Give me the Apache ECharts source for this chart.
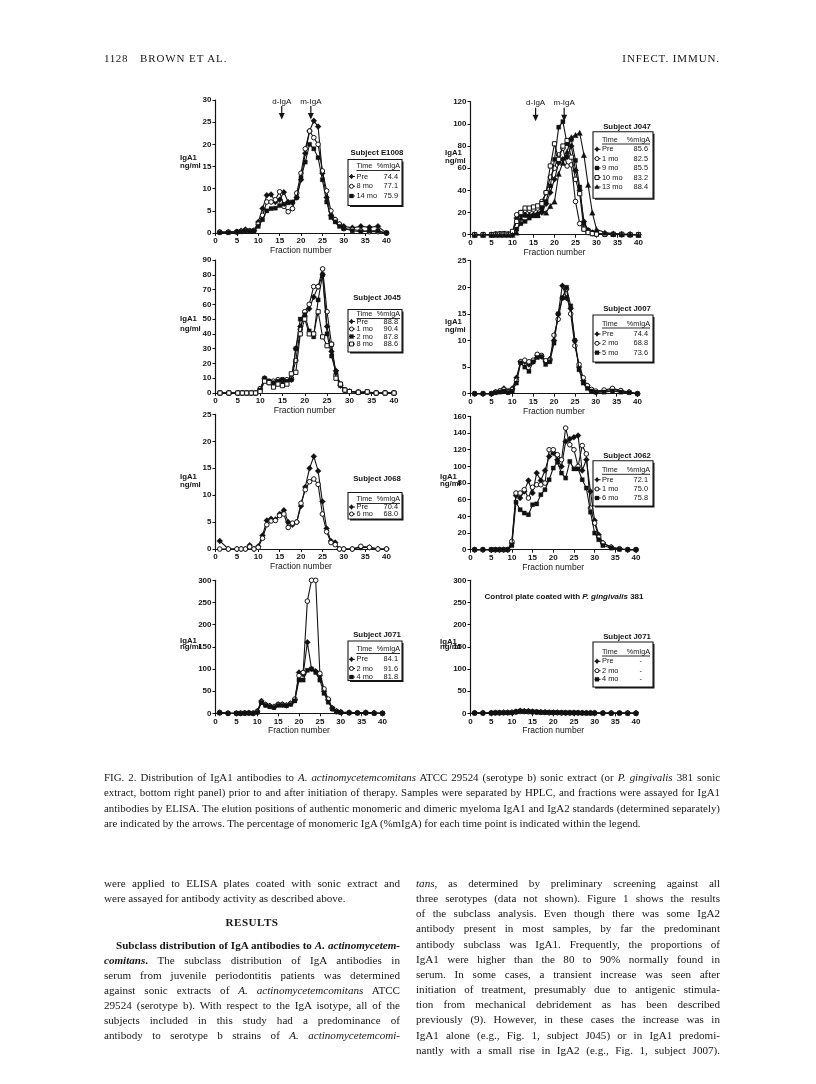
<!DOCTYPE html>
<html><head><meta charset="utf-8"><title>Fig 2</title>
<script src="https://cdn.jsdelivr.net/npm/echarts/dist/echarts.min.js"></script>
<style>
html,body{margin:0;padding:0;background:#fff;}
#page{position:relative;width:816px;height:1084px;overflow:hidden;background:#fff;}
#chart{position:absolute;left:0;top:0;width:816px;height:1084px;}
.ln{position:absolute;font-family:"Liberation Serif","Times New Roman",serif;color:#161616;white-space:nowrap;}
.jf{text-align:justify;text-align-last:justify;}
</style></head><body><div id="page"><div id="chart"></div></div>
<script>
// ---------------- DATA ----------------
const FR   = [1,3,5,6,7,8,9,10,11,12,13,14,15,16,17,18,19,20,21,22,23,24,25,26,27,28,29,30,32,34,36,38,40];
const FR62 = [1,3,5,6,7,8,9,10,11,12,13,14,15,16,17,18,19,20,21,22,23,24,25,26,27,28,29,30,31,32,34,36,38,40];

const E1008_times = ['Pre','8 mo','14 mo'];
const E1008_pct   = ['74.4','77.1','75.9'];
const E1008_pre   = [0.2,0.2,0.3,0.5,0.8,0.5,0.5, 2.5,5.5,8.5,8.7,7,7.5,9.2,7,6.8,8,12,18,23,25.3,24,13.5,8,4,3,2,1.5, 1.2,1.5,1.3,1.5,0];
const E1008_8mo   = [0.2,0.2,0.3,0.4,0.6,0.5,0.6, 2,4,7,7,7.5,9.3,6,4.8,5.5,9,13.5,19,23,21.5,20,14,9.5,5,3,2,1, 0.8,0.5,0.3,0.3,0];
const E1008_14mo  = [0.1,0.1,0.2,0.3,0.5,0.4,0.5, 1.5,3,5,5.5,5.6,6.2,6.5,6.8,7,8,12.5,16,20,19,17,12,7,3.5,2.5,1.5,1, 0.5,0.3,0.5,0.5,0];

const J047_times = ['Pre','1 mo','9 mo','10 mo','13 mo'];
const J047_pct   = ['85.6','82.5','85.5','83.2','88.4'];
const J047_pre   = [0,0,0,0.5,0.5,0.8,0.5, 1,15,18,18,17,18,19,20,28,38,50,65,68,70,80,58,40,12,4,2,1, 0.5,0.5,0.3,0.3,0];
const J047_1mo   = [0,0,0,0.5,0.5,0.5,0.5, 2,18,20,22,22,23,24,30,38,52,60,72,78,62,63,30,10,5,2,1,0.5, 0.3,0.3,0,0,0];
const J047_9mo   = [0,0,0,0.5,0.8,1,0.5, 1,5,10,12,15,17,17,24,30,44,68,97,102,82,86,67,43,10,4,2,1, 0.5,0.5,0.3,0,0];
const J047_10mo  = [0,0,0,0.3,0.5,0.5,0.3, 3,12,20,24,24,25,26,28,38,62,82,68,80,85,70,50,37,5,2,1,0.5, 0.5,0.3,0.3,0,0];
const J047_13mo  = [0,0,0,0,0,0,0, 0,2,15,18,18,18,18,22,20,26,30,55,65,75,88,90,92,72,45,20,5, 2,1,0.5,0.3,0];

const J045_times = ['Pre','1 mo','2 mo','8 mo'];
const J045_pct   = ['88.8','90.4','87.8','88.6'];
const J045_pre   = [0,0,0,0,0,0,0, 2,10,8,7,8,8,8,9,30,45,52,57,65,72,80,45,28,15,5,2,1, 0.5,0.5,0,0,0];
const J045_1mo   = [0,0,0,0,0,0,0, 3,9,7,8,9,9,9,10,22,43,55,60,72,72,84,55,33,12,6,2,1, 0.5,0.5,0,0,0];
const J045_2mo   = [0,0,0,0,0,0,0, 2,10,8,7,8,9,8,9,30,50,53,42,38,63,80,40,25,14,5,2,1, 0.5,0.5,0,0,0];
const J045_8mo   = [0,0,0,0,0,0,0, 1,8,7,4,6,5,6,13,14,40,50,40,40,55,38,32,33,10,6,2,1, 0.5,0.8,0,0,0];

const J007_times = ['Pre','2 mo','5 mo'];
const J007_pct   = ['74.4','68.8','73.6'];
const J007_pre   = [0,0,0,0.3,0.5,1,0.5, 1,3,6,6,5.5,6,7.2,7,6,6.5,10,15,20.3,18,16,10,5,2.5,1.5,0.5,0.3, 0.5,0.8,0.5,0.3,0];
const J007_2mo   = [0,0,0,0.3,0.5,0.8,0.3, 0.8,2.5,6,6.3,6,6.3,7.4,7.2,6.2,6.3,11,14,18,19.7,15,9,5.5,3,1.5,0.8,0.5, 0.7,1,0.6,0.3,0];
const J007_5mo   = [0,0,0,0.2,0.3,0.5,0.2, 0.5,2,5.8,5,4.2,6,6.8,7,5.5,6,9.5,15,18,20,16.5,10,4.5,2,1,0.5,0.3, 0.3,0.5,0.3,0.2,0];

const J068_times = ['Pre','6 mo'];
const J068_pct   = ['70.4','68.0'];
const J068_pre   = [1.5,0,0,0,0,0.7,0, 0.5,2.5,5.3,5.6,5.5,6.5,7.2,5,4.5,5,8,11.5,15,17.2,14.5,8.8,3.8,1.5,1.2,0,0, 0,0.3,0.3,0,0];
const J068_6mo   = [0,0,0,0,0,0.4,0, 0.3,2,4.5,5.2,5.3,6.2,6.5,4,4.8,5,8.5,11,12.5,13,12,6.5,3.2,1.2,0.8,0,0, 0,0.5,0.3,0,0];

const J062_times = ['Pre','1 mo','6 mo'];
const J062_pct   = ['72.1','75.0','75.8'];
const J062_pre   = [0,0,0,0,0,0,0, 8,65,62,70,83,68,92,83,95,112,116,108,100,130,133,135,137,95,108,70,35,18,8, 3,1,0,0];
const J062_1mo   = [0,0,0,0,0,0,0, 10,68,68,72,62,75,78,78,80,120,120,114,108,146,126,120,100,125,115,50,32,15,8, 3,1,0,0];
const J062_6mo   = [0,0,0,0,0,0,0, 5,57,48,44,42,54,55,66,72,84,98,105,92,86,106,97,97,84,74,45,20,12,5, 2,0.5,0,0];

const J071_times = ['Pre','2 mo','4 mo'];
const J071_pct   = ['84.1','91.6','81.8'];
const J071_pre   = [2,0,0,0,0.5,1,0, 5,28,20,17,15,20,20,18,22,30,92,88,160,100,95,85,50,30,12,5,3, 2,1,2,1,0];
const J071_2mo   = [1,0,0,0,0.5,0.5,0, 3,25,19,16,14,20,20,18,22,32,85,92,253,300,300,90,55,32,10,4,2, 1,1,1,0,0];
const J071_4mo   = [1,0,0,0,0.3,0.5,0, 2,24,18,15,13,18,18,17,20,28,75,75,97,100,92,75,45,25,10,3,2, 1,0.5,1,0,0];

const CTRL_times = ['Pre','2 mo','4 mo'];
const CTRL_pct   = ['-','-','-'];
const CTRL_pre   = [1,1,1,1.5,1.5,2,2, 2,4,6,5,5,4,3,3,2.5,2,2,2,1.5,1.5,1.5,1.5,1,1,1,1,1, 0.5,0.5,0.5,0.5,0.5];
const CTRL_2mo   = [0.5,0.5,0.5,1,1,1.5,1.5, 2,3,4,4,3.5,3,2.5,2,2,1.5,1.5,1.5,1,1,1,1,1,1,0.5,0.5,0.5, 0.5,0.5,0.5,0.5,0];
const CTRL_4mo   = [0.5,0.5,0.5,1,1,1,1, 1.5,3,5,4,4,3,3,2,2,2,1.5,1.5,1.5,1,1,1,1,0.5,0.5,0.5,0.5, 0.5,0,0.5,0,0];

const ARROWS = [{label:'d-IgA', frac:15.5}, {label:'m-IgA', frac:22.3}];

const HEADER_LEFT = ['1128', 'BROWN ET AL.'];
const HEADER_RIGHT = 'INFECT. IMMUN.';
const CAPTION = [
 'FIG. 2. Distribution of IgA1 antibodies to <i>A. actinomycetemcomitans</i> ATCC 29524 (serotype b) sonic extract (or <i>P. gingivalis</i> 381 sonic',
 'extract, bottom right panel) prior to and after initiation of therapy. Samples were separated by HPLC, and fractions were assayed for IgA1',
 'antibodies by ELISA. The elution positions of authentic monomeric and dimeric myeloma IgA1 and IgA2 standards (determined separately)',
 'are indicated by the arrows. The percentage of monomeric IgA (%mIgA) for each time point is indicated within the legend.'
];
const LEFT_COL = [
 'were applied to ELISA plates coated with sonic extract and',
 'were assayed for antibody activity as described above.',
 '<b>RESULTS</b>',
 '<b>Subclass distribution of IgA antibodies to <i>A. actinomycetem-</i></b>',
 '<b><i>comitans</i>.</b> The subclass distribution of IgA antibodies in',
 'serum from juvenile periodontitis patients was determined',
 'against sonic extracts of <i>A. actinomycetemcomitans</i> ATCC',
 '29524 (serotype b). With respect to the IgA isotype, all of the',
 'subjects included in this study had a predominance of',
 'antibody to serotype b strains of <i>A. actinomycetemcomi-</i>'
];
const RIGHT_COL = [
 '<i>tans</i>, as determined by preliminary screening against all',
 'three serotypes (data not shown). Figure 1 shows the results',
 'of the subclass analysis. Even though there was some IgA2',
 'antibody present in most samples, by far the predominant',
 'antibody subclass was IgA1. Frequently, the proportions of',
 'IgA1 were higher than the 80 to 90% normally found in',
 'serum. In some cases, a transient increase was seen after',
 'initiation of treatment, presumably due to antigenic stimula-',
 'tion from mechanical debridement as has been described',
 'previously (9). However, in these cases the increase was in',
 'IgA1 alone (e.g., Fig. 1, subject J045) or in IgA1 predomi-',
 'nantly with a small rise in IgA2 (e.g., Fig. 1, subject J007).'
];

// ---------------- LAYOUT ----------------
const LB = {w:54, mk:351.5, tx:356.5, vr:398, tc:377};   // left-panel legend columns
const RB = {w:60, mk:597,   tx:602,   vr:648, tc:627};   // right-panel legend columns
const PANELS = [
 {subject:'E1008', fr:FR, times:E1008_times, pct:E1008_pct, data:[E1008_pre,E1008_8mo,E1008_14mo], yMax:30, yStep:5,
  grid:[215.5,100,171,133], lab:[180,161.5,8], nameGap:13, col:LB,
  leg:{titleY:152.5, box:[348,159.5,46], head:166.5, rows:[176.5,186.3,196]}, arrows:true},
 {subject:'J047', fr:FR, times:J047_times, pct:J047_pct, data:[J047_pre,J047_1mo,J047_9mo,J047_10mo,J047_13mo], yMax:120, yStep:20,
  grid:[470.5,101.7,168,133], lab:[445,157,8], nameGap:13, col:RB,
  leg:{titleY:126.7, box:[593,131.7,66.6], head:140, rows:[149.3,158.6,168,177.5,187]}, arrows:true},
 {subject:'J045', fr:FR, times:J045_times, pct:J045_pct, data:[J045_pre,J045_1mo,J045_2mo,J045_8mo], yMax:90, yStep:10,
  grid:[215.5,260,178.5,133], lab:[180,324,10], nameGap:13, col:LB,
  leg:{titleY:298.3, box:[348,309.5,42.5], head:314.5, rows:[321.5,329,336.5,344]}},
 {subject:'J007', fr:FR, times:J007_times, pct:J007_pct, data:[J007_pre,J007_2mo,J007_5mo], yMax:25, yStep:5,
  grid:[470.5,260.7,167,133], lab:[445,325.5,8], nameGap:13, col:RB,
  leg:{titleY:309, box:[593,315,47], head:324, rows:[334,343.3,352.7]}},
 {subject:'J068', fr:FR, times:J068_times, pct:J068_pct, data:[J068_pre,J068_6mo], yMax:25, yStep:5,
  grid:[215.5,414.4,171,134.6], lab:[180,481,8], nameGap:13, col:LB,
  leg:{titleY:479, box:[348,492.5,26.5], head:499.5, rows:[507,514]}},
 {subject:'J062', fr:FR62, times:J062_times, pct:J062_pct, data:[J062_pre,J062_1mo,J062_6mo], yMax:160, yStep:20,
  grid:[470.5,416.4,165.5,133.3], lab:[440,480,7], nameGap:13, col:RB,
  leg:{titleY:456, box:[593,460.7,45.3], head:470.3, rows:[479.7,489,498]}},
 {subject:'J071', fr:FR, times:J071_times, pct:J071_pct, data:[J071_pre,J071_2mo,J071_4mo], yMax:300, yStep:50,
  grid:[215.5,580.3,167,133], lab:[180,643.5,6], nameGap:13, col:LB,
  leg:{titleY:634.7, box:[348,641,39.5], head:649.5, rows:[659.3,668.5,677]}},
 {subject:'J071', fr:FR, times:CTRL_times, pct:CTRL_pct, data:[CTRL_pre,CTRL_2mo,CTRL_4mo], yMax:300, yStep:50,
  grid:[470.5,580.3,165.5,133], lab:[440,644,5], nameGap:10, col:RB, control:true,
  leg:{titleY:637.3, box:[593,642,45], head:652, rows:[661.3,670.7,679.3]}}
];

const SYM = [
 {type:'diamond', size:6,   fill:'#111'},
 {type:'circle',  size:4.6, fill:'#fff'},
 {type:'rect',    size:4.2, fill:'#111'},
 {type:'rect',    size:4.2, fill:'#fff'},
 {type:'triangle',size:5.5, fill:'#111'}
];
const INK = '#141414';
const SANS = '"Liberation Sans", Arial, Helvetica, sans-serif';

// ---------------- CHART ----------------
const chart = echarts.init(document.getElementById('chart'), null, {renderer:'canvas', width:816, height:1084});

const grids = [], xAxes = [], yAxes = [], series = [];
PANELS.forEach((p, i) => {
  grids.push({left:p.grid[0], top:p.grid[1], width:p.grid[2], height:p.grid[3], containLabel:false});
  xAxes.push({type:'value', gridIndex:i, min:0, max:40, interval:5,
    axisLine:{onZero:false, lineStyle:{color:INK, width:1.2}},
    axisTick:{show:true, length:3, lineStyle:{color:INK, width:1}},
    splitLine:{show:false},
    axisLabel:{fontSize:8, color:INK, fontFamily:SANS, fontWeight:'bold', margin:4},
    name:'Fraction number', nameLocation:'middle', nameGap:p.nameGap,
    nameTextStyle:{fontSize:8.5, color:INK, fontFamily:SANS}});
  yAxes.push({type:'value', gridIndex:i, min:0, max:p.yMax, interval:p.yStep,
    axisLine:{show:true, onZero:false, lineStyle:{color:INK, width:1.2}},
    axisTick:{show:true, length:3, lineStyle:{color:INK, width:1}},
    splitLine:{show:false},
    axisLabel:{fontSize:8, color:INK, fontFamily:SANS, fontWeight:'bold', margin:4}});
  p.data.forEach((vals, s) => {
    const sy = SYM[s];
    series.push({type:'line', xAxisIndex:i, yAxisIndex:i, name:p.subject+' '+p.times[s],
      data:p.fr.map((f,k)=>[f, vals[k]]),
      symbol:sy.type, symbolSize:sy.size, showSymbol:true, clip:false, silent:true, animation:false,
      lineStyle:{color:INK, width:1.1},
      itemStyle:{color:sy.fill, borderColor:INK, borderWidth: sy.fill==='#fff' ? 1 : 0.3},
      z: 2 + s});
  });
});

chart.setOption({animation:false, grid:grids, xAxis:xAxes, yAxis:yAxes, series:series});

// ---------------- ANNOTATIONS ----------------
function txt(x, y, text, o) {
  o = o || {};
  return {type:'text', x:x, y:y, z:100, silent:true,
    style:Object.assign({text:text, fill:INK, fontFamily:SANS, fontSize:8, align:'left', verticalAlign:'middle'}, o)};
}
function marker(kind, x, y) {
  const els = [{type:'line', z:100, shape:{x1:x-2.5, y1:y, x2:x+3.5, y2:y}, style:{stroke:INK, lineWidth:1}}];
  const sy = SYM[kind];
  if (sy.type === 'diamond') els.push({type:'polygon', z:101, shape:{points:[[x,y-2.8],[x+2.2,y],[x,y+2.8],[x-2.2,y]]}, style:{fill:INK}});
  else if (sy.type === 'circle') els.push({type:'circle', z:101, shape:{cx:x, cy:y, r:2}, style:{fill:'#fff', stroke:INK, lineWidth:1}});
  else if (sy.type === 'rect') els.push({type:'rect', z:101, shape:{x:x-2, y:y-2, width:4, height:4}, style:{fill:sy.fill, stroke:INK, lineWidth: sy.fill==='#fff'?1:0.3}});
  else els.push({type:'polygon', z:101, shape:{points:[[x,y-2.8],[x+2.6,y+1.8],[x-2.6,y+1.8]]}, style:{fill:INK}});
  return els;
}
const G = [];
PANELS.forEach((p, i) => {
  const L = p.leg, C = p.col;
  const bx = L.box[0], by = L.box[1], bh = L.box[2], bw = C.w;
  G.push(txt(p.lab[0], p.lab[1], 'IgA1\nng/ml', {fontSize:7.8, lineHeight:p.lab[2], fontWeight:'bold'}));
  G.push(txt(C.tc, L.titleY, 'Subject ' + p.subject, {fontWeight:'bold', align:'center', fontSize:7.8}));
  G.push({type:'rect', z:99, shape:{x:bx, y:by, width:bw, height:bh}, style:{fill:'#fff', stroke:INK, lineWidth:1.1}});
  G.push({type:'polyline', z:99, shape:{points:[[bx+2, by+bh+0.8],[bx+bw+0.8, by+bh+0.8],[bx+bw+0.8, by+2]]}, style:{stroke:INK, lineWidth:1.4, fill:null}});
  G.push(txt(C.tx, L.head, 'Time', {fontSize:7.2}));
  G.push(txt(C.vr + 2, L.head, '%mIgA', {fontSize:7.2, align:'right'}));
  G.push({type:'line', z:100, shape:{x1:C.tx, y1:L.head+4, x2:C.vr+2, y2:L.head+4}, style:{stroke:INK, lineWidth:0.9}});
  p.times.forEach((t, s) => {
    marker(s, C.mk, L.rows[s]).forEach(e => G.push(e));
    G.push(txt(C.tx, L.rows[s], t, {fontSize:7.4}));
    G.push(txt(p.control ? C.vr - 6 : C.vr, L.rows[s], p.pct[s], {fontSize:7.4, align:'right'}));
  });
  if (p.arrows) {
    ARROWS.forEach(a => {
      const px = chart.convertToPixel({xAxisIndex:i}, a.frac);
      const top = p.grid[1];
      G.push(txt(px, top + 1.5, a.label, {align:'center', fontSize:8}));
      G.push({type:'line', z:100, shape:{x1:px, y1:top+6, x2:px, y2:top+15}, style:{stroke:INK, lineWidth:1.2}});
      G.push({type:'polygon', z:100, shape:{points:[[px-3,top+13],[px+3,top+13],[px,top+19.5]]}, style:{fill:INK}});
    });
  }
  if (p.control) {
    G.push({type:'text', x:564, y:596.5, z:100, style:{
      text:'Control plate coated with {i|P. gingivalis} 381', fill:INK, fontFamily:SANS, fontSize:8, fontWeight:'bold',
      align:'center', verticalAlign:'middle',
      rich:{i:{fontStyle:'italic', fontWeight:'bold', fontSize:8, fontFamily:SANS, fill:INK}}}});
  }
});
chart.setOption({graphic:{elements:G}});

// ---------------- PAGE TEXT ----------------
const page = document.getElementById('page');
function line(html, x, yc, w, fs, opts) {
  opts = opts || {};
  const d = document.createElement('div');
  d.className = 'ln' + (opts.j ? ' jf' : '');
  d.style.left = x + 'px';
  d.style.top = (yc - 8) + 'px';
  d.style.height = '16px';
  d.style.lineHeight = '16px';
  d.style.fontSize = fs + 'px';
  if (w) d.style.width = w + 'px';
  if (opts.ind) d.style.textIndent = opts.ind + 'px';
  if (opts.center) d.style.textAlign = 'center';
  if (opts.right) d.style.textAlign = 'right';
  if (opts.ls) d.style.letterSpacing = opts.ls + 'px';
  d.innerHTML = html;
  page.appendChild(d);
}
// header
line(HEADER_LEFT[0], 104, 58, 0, 11, {ls:0.6});
line(HEADER_LEFT[1], 140, 58, 0, 11, {ls:0.9});
line(HEADER_RIGHT, 520, 58, 200, 11, {right:true, ls:0.9});
// caption
const CAP_X = 104, CAP_W = 616, CAP_Y0 = 777, CAP_DY = 15.3;
CAPTION.forEach((t, k) => line(t, CAP_X, CAP_Y0 + k*CAP_DY, CAP_W, 10.9, {j: k < CAPTION.length-1}));
// body
const BY0 = 883, BDY = 15.15, LX = 104, LW = 296, RX = 416, RW = 304, FS = 11.1;
line(LEFT_COL[0], LX, BY0, LW, FS, {j:true});
line(LEFT_COL[1], LX, BY0 + BDY, LW, FS);
line(LEFT_COL[2], LX, 921.5, LW, FS, {center:true, ls:0.5});
for (let k = 3; k < LEFT_COL.length; k++) {
  line(LEFT_COL[k], LX, 944.5 + (k-3)*BDY, LW, FS, {j:true, ind: k===3 ? 12 : 0});
}
RIGHT_COL.forEach((t, k) => line(t, RX, BY0 + k*BDY, RW, FS, {j:true}));
</script></body></html>
